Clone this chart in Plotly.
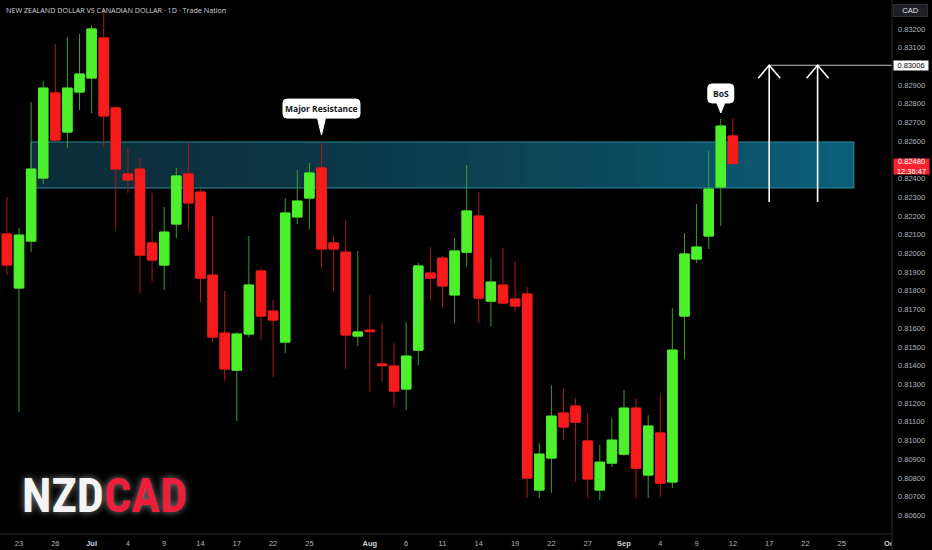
import pandas as pd
import plotly.graph_objects as go

# ---------------- data ----------------
calendar = pd.bdate_range("2025-06-20", "2025-10-01")          # trading-day calendar (FX, Mon-Fri)
pos = {d.strftime("%Y-%m-%d"): i - 1 for i, d in enumerate(calendar)}  # 23 Jun = 0

candle_dates = [d.strftime("%Y-%m-%d") for d in pd.bdate_range("2025-06-20", "2025-09-12")]

opens = [0.82104, 0.81815, 0.82066, 0.82403, 0.82858, 0.82649, 0.82863, 0.82938, 0.83152, 0.82778,
         0.82425, 0.82451, 0.82056, 0.81938, 0.82157, 0.82425, 0.82328, 0.81884, 0.81574, 0.81376,
         0.81569, 0.81906, 0.81692, 0.81526, 0.82195, 0.82296, 0.82457, 0.82056, 0.82007, 0.81558,
         0.81590, 0.81409, 0.81398, 0.81275, 0.81483, 0.81895, 0.81975, 0.81778, 0.82007, 0.82200,
         0.81745, 0.81831, 0.81756, 0.81783, 0.80735, 0.80906, 0.81147, 0.81184, 0.80997, 0.80735,
         0.80879, 0.80927, 0.81173, 0.80815, 0.81040, 0.80778, 0.81665, 0.81970, 0.82093, 0.82355,
         0.82628]
highs = [0.82302, 0.82136, 0.82810, 0.82922, 0.83120, 0.83157, 0.83173, 0.83221, 0.83307, 0.82788,
         0.82564, 0.82510, 0.82323, 0.82248, 0.82457, 0.82596, 0.82350, 0.82200, 0.81799, 0.81580,
         0.82093, 0.81922, 0.81751, 0.82296, 0.82446, 0.82483, 0.82590, 0.82093, 0.82179, 0.82013,
         0.81778, 0.81628, 0.81521, 0.81633, 0.81949, 0.82034, 0.81986, 0.82082, 0.82473, 0.82328,
         0.81975, 0.82029, 0.81959, 0.81820, 0.80986, 0.81296, 0.81280, 0.81227, 0.81147, 0.80975,
         0.81120, 0.81270, 0.81227, 0.81136, 0.81248, 0.81708, 0.82109, 0.82264, 0.82548, 0.82719,
         0.82724]
lows = [0.81884, 0.81152, 0.82007, 0.82371, 0.82601, 0.82564, 0.82767, 0.82751, 0.82569, 0.82125,
        0.82323, 0.81788, 0.81847, 0.81804, 0.82082, 0.82125, 0.81740, 0.81526, 0.81318, 0.81104,
        0.81553, 0.81537, 0.81339, 0.81467, 0.82157, 0.82130, 0.81922, 0.81799, 0.81382, 0.81505,
        0.81264, 0.81312, 0.81179, 0.81163, 0.81403, 0.81751, 0.81713, 0.81628, 0.81927, 0.81628,
        0.81612, 0.81729, 0.81687, 0.80692, 0.80692, 0.80719, 0.81007, 0.80778, 0.80692, 0.80681,
        0.80858, 0.80917, 0.80692, 0.80692, 0.80697, 0.80745, 0.81435, 0.81949, 0.82024, 0.82147,
        0.82480]
closes = [0.81938, 0.82098, 0.82451, 0.82884, 0.82606, 0.82884, 0.82959, 0.83200, 0.82735, 0.82451,
          0.82393, 0.81991, 0.81965, 0.82114, 0.82414, 0.82270, 0.81868, 0.81553, 0.81382, 0.81569,
          0.81831, 0.81665, 0.81644, 0.82216, 0.82280, 0.82430, 0.82024, 0.82024, 0.81564, 0.81580,
          0.81582, 0.81400, 0.81264, 0.81451, 0.81933, 0.81868, 0.81826, 0.82013, 0.82227, 0.81761,
          0.81847, 0.81735, 0.81719, 0.80799, 0.80927, 0.81130, 0.81072, 0.81098, 0.80794, 0.80884,
          0.81002, 0.81173, 0.80852, 0.81077, 0.80772, 0.81483, 0.81997, 0.82034, 0.82344, 0.82681,
          0.82480]

tick_dates = ["2025-06-23", "2025-06-26", "2025-07-01", "2025-07-04", "2025-07-09", "2025-07-14",
              "2025-07-17", "2025-07-22", "2025-07-25", "2025-08-01", "2025-08-06", "2025-08-11",
              "2025-08-14", "2025-08-19", "2025-08-22", "2025-08-27", "2025-09-01", "2025-09-04",
              "2025-09-09", "2025-09-12", "2025-09-17", "2025-09-22", "2025-09-25", "2025-10-01"]
tick_text = ["23", "26", "Jul", "4", "9", "14", "17", "22", "25", "Aug", "6", "11",
             "14", "19", "22", "27", "Sep", "4", "9", "12", "17", "22", "25", "Oct"]
month_labels = ["Jul", "Aug", "Sep", "Oct"]

price_ticks = [round(0.806 + 0.001 * k, 3) for k in range(27)]

zone_start, zone_end = "2025-06-24", "2025-09-26"
zone_low, zone_high = 0.82350, 0.82596
target_price = 0.83006
arrow_dates = ["2025-09-17", "2025-09-23"]
arrow_base = 0.82275
last_price = 0.82480
countdown = "12:36:47"
resistance_date = "2025-07-28"
bos_date = "2025-09-11"

title_text = "NEW ZEALAND DOLLAR VS CANADIAN DOLLAR · 1D · Trade Nation"

# ---------------- style ----------------
UP, DOWN = "#4cf12b", "#f81b1b"
WICK_UP, WICK_DOWN = "#3a9e25", "#b01818"
AXIS_TXT = "#b2b5be"
SEP = "#2a2a2a"

x = [pos[d] for d in candle_dates]
x_range = [-1.57, 72.15]

fig = go.Figure()
fig.add_trace(go.Candlestick(
    x=x, open=opens, high=highs, low=lows, close=closes,
    increasing=dict(line=dict(color=WICK_UP, width=1), fillcolor=WICK_UP),
    decreasing=dict(line=dict(color=WICK_DOWN, width=1), fillcolor=WICK_DOWN),
    whiskerwidth=0, hoverinfo="skip"))
fig.add_trace(go.Candlestick(
    x=x, open=opens, close=closes,
    high=[max(o, c) for o, c in zip(opens, closes)],
    low=[min(o, c) for o, c in zip(opens, closes)],
    increasing=dict(line=dict(color=UP, width=1), fillcolor=UP),
    decreasing=dict(line=dict(color=DOWN, width=1), fillcolor=DOWN),
    whiskerwidth=0, hoverinfo="skip"))

shapes = []
# resistance zone with a left-to-right gradient
zx0, zx1 = pos[zone_start], pos[zone_end]
n = 30
c0, c1 = (12, 46, 58), (9, 96, 122)
step = (zx1 - zx0) / n
for i in range(n):
    t = ((i + 0.5) / n) ** 1.6
    col = tuple(int(round(a + (b - a) * t)) for a, b in zip(c0, c1))
    shapes.append(dict(type="rect", xref="x", yref="y", layer="below",
                       x0=zx0 + step * i, x1=min(zx1, zx0 + step * (i + 1) + 0.25),
                       y0=zone_low, y1=zone_high, line=dict(width=0),
                       fillcolor="rgb(%d,%d,%d)" % col))
shapes.append(dict(type="rect", xref="x", yref="y", layer="below", x0=zx0, x1=zx1,
                   y0=zone_low, y1=zone_high, line=dict(color="#2a8aa2", width=1),
                   fillcolor="rgba(0,0,0,0)"))

# target line
shapes.append(dict(type="line", xref="x", yref="y", layer="above",
                   x0=pos[arrow_dates[0]], x1=x_range[1], y0=target_price, y1=target_price,
                   line=dict(color="#c8c8c8", width=1)))
# up arrows
for d in arrow_dates:
    shapes.append(dict(type="line", xref="x", yref="y", layer="above",
                       x0=pos[d], x1=pos[d], y0=arrow_base, y1=target_price,
                       line=dict(color="#ffffff", width=1.6)))
    shapes.append(dict(type="path", xref="x", yref="y", layer="above",
                       xsizemode="pixel", ysizemode="pixel",
                       xanchor=pos[d], yanchor=target_price,
                       path="M -11,-13 L 0,0 L 11,-13",
                       line=dict(color="#ffffff", width=1.6)))

# callout bubbles
def bubble(xa, ya, tip, h, half_w, r=4, tri=4):
    b0, b1 = tip + (h[0]), tip + h[1]
    p = ("M 0,{tip} L {nt},{b0} L {l1},{b0} Q {l},{b0} {l},{b0r} L {l},{b1r} Q {l},{b1} {l1},{b1} "
         "L {r1},{b1} Q {r},{b1} {r},{b1r} L {r},{b0r} Q {r},{b0} {r1},{b0} L {pt},{b0} Z").format(
        tip=tip, nt=-tri, pt=tri, b0=b0, b1=b1, b0r=b0 + r, b1r=b1 - r,
        l=-half_w, l1=-half_w + r, r=half_w, r1=half_w - r)
    return dict(type="path", xref="x", yref="y", layer="above", xsizemode="pixel",
                ysizemode="pixel", xanchor=xa, yanchor=ya, path=p,
                fillcolor="#ffffff", line=dict(color="#ffffff", width=1))

res_i = candle_dates.index(resistance_date)
bos_i = candle_dates.index(bos_date)
shapes.append(bubble(x[res_i], highs[res_i], 8, (17, 36), 38.5))
shapes.append(bubble(x[bos_i], highs[bos_i], 6, (10, 29), 13))

# hide the part of the last date label under the price scale, and draw separators
shapes.append(dict(type="rect", xref="paper", yref="paper", layer="above",
                   x0=1, x1=1.2, y0=-0.1, y1=0, fillcolor="#000000", line=dict(width=0)))
shapes.append(dict(type="line", xref="paper", yref="paper", layer="above",
                   x0=1, x1=1, y0=-0.1, y1=1, line=dict(color=SEP, width=1)))
shapes.append(dict(type="line", xref="paper", yref="paper", layer="above",
                   x0=0, x1=1, y0=0, y1=0, line=dict(color=SEP, width=1)))

annotations = [
    dict(text=title_text, xref="paper", yref="paper", x=0, y=1, xanchor="left", yanchor="top",
         xshift=4, yshift=-3, showarrow=False,
         font=dict(family="Open Sans", size=7.2, color="#d1d4dc")),
    dict(text="Major Resistance", xref="x", yref="y", x=x[res_i], y=highs[res_i],
         yshift=8 + 26.5, showarrow=False,
         font=dict(family="Open Sans", size=8.5, color="#131722", weight=700)),
    dict(text="BoS", xref="x", yref="y", x=x[bos_i], y=highs[bos_i],
         yshift=6 + 19.5, showarrow=False,
         font=dict(family="Open Sans", size=8.5, color="#131722", weight=700)),
    dict(text="CAD", xref="paper", yref="paper", x=1, y=1, xanchor="left", yanchor="top",
         xshift=1, yshift=-4, showarrow=False, width=33, height=11, bgcolor="#1e1f23",
         bordercolor="#2e2f35", borderwidth=1, borderpad=0,
         font=dict(family="Liberation Sans", size=7.5, color="#e0e3eb")),
    dict(text="%.5f" % target_price, xref="paper", yref="y", x=1, y=target_price,
         xanchor="left", yanchor="middle", xshift=1, showarrow=False, width=34, height=9,
         bgcolor="#ffffff", borderpad=0,
         font=dict(family="Liberation Sans", size=7.5, color="#000000")),
    dict(text="%.5f<br>%s" % (last_price, countdown), xref="paper", yref="y", x=1, y=last_price,
         xanchor="left", yanchor="top", xshift=1, yshift=6, showarrow=False, width=35, height=15,
         bgcolor="#f7232f", borderpad=0,
         font=dict(family="Liberation Sans", size=7.5, color="#ffffff")),
    dict(text="NZD<span style='color:#ee1d3a'>CAD</span>", xref="paper", yref="paper",
         x=0, y=0, xanchor="left", yanchor="bottom", xshift=20, yshift=8, showarrow=False,
         font=dict(family="Roboto Condensed, Liberation Sans Narrow, DejaVu Sans Condensed, Roboto",
                   size=48, color="#f4f4f4", weight=700,
                   shadow="0px 0px 7px rgba(255,255,255,0.5)")),
]

styled_ticks = ["<span style='color:#d1d4dc'><b>%s</b></span>" % t if t in month_labels else t
                for t in tick_text]

fig.update_layout(
    width=932, height=550,
    margin=dict(l=0, r=40, t=0, b=16),
    paper_bgcolor="#000000", plot_bgcolor="#000000",
    showlegend=False, boxgap=0.22, boxgroupgap=0,
    shapes=shapes, annotations=annotations,
    xaxis=dict(range=x_range, tickvals=[pos[d] for d in tick_dates], ticktext=styled_ticks,
               showgrid=False, zeroline=False, showline=False, ticks="",
               rangeslider=dict(visible=False), ticklabelstandoff=3,
               tickfont=dict(family="Liberation Sans", size=7.5, color=AXIS_TXT)),
    yaxis=dict(side="right", range=[0.80500, 0.83355], tickvals=price_ticks,
               tickformat=".5f", showgrid=False, zeroline=False, showline=False, ticks="",
               ticklabelstandoff=5,
               tickfont=dict(family="Liberation Sans", size=7.5, color=AXIS_TXT)),
)

fig.write_html("out.html", config={"displayModeBar": False},
               post_script="document.body.style.margin='0';document.body.style.background='#000';")
